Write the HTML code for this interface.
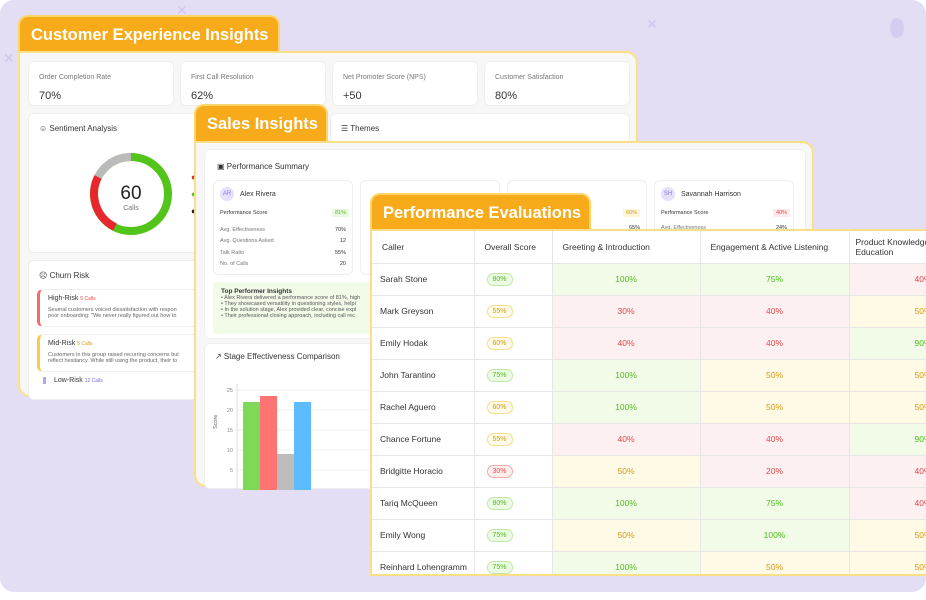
<!DOCTYPE html>
<html><head><meta charset="utf-8"><style>
*{box-sizing:border-box;margin:0;padding:0}
body{width:926px;height:600px;background:#fff;font-family:"Liberation Sans",sans-serif;position:relative;overflow:hidden;color:#333}
.abs{position:absolute}
.bg{left:0;top:0;width:926px;height:592px;background:#e4def4;border-radius:14px}
.tab{background:#f7ab1a;color:#fff;font-weight:bold;border:2px solid #fbd46a;border-bottom:none;border-radius:10px 10px 0 0;padding-left:11px;display:flex;align-items:center;white-space:nowrap}
.card{background:#f7f7f8;border:2px solid #fbdf86;border-radius:0 12px 12px 12px}
.box{background:#fff;border-radius:6px;border:1px solid #eee}
.sm{font-size:7px;color:#777}
.t{font-size:8px;color:#333}
table{border-collapse:collapse;font-size:8.5px}
td,th{border-right:1px solid #e6e6e6;border-bottom:1px solid #e6e6e6;height:32px}
th{font-weight:normal;text-align:left;padding-left:10px;color:#333;background:#fff}
.g{background:#f2fbe8;color:#4cbf1b;text-align:center}
.r{background:#fdf0f0;color:#e2474b;text-align:center}
.y{background:#fefae6;color:#d89a14;text-align:center}
.pill{display:inline-block;font-size:7px;padding:2px 5px;border-radius:8px;border:1px solid}
</style></head><body>
<div class="abs bg"></div>
<div class="abs" style="left:176px;top:2px;color:#cfc6ea;font-size:14px">✕</div>
<div class="abs" style="left:646px;top:16px;color:#cfc6ea;font-size:14px">✕</div>
<div class="abs" style="left:3px;top:50px;color:#cfc6ea;font-size:14px">✕</div>

<!-- Card 1 -->
<div class="abs tab" style="left:18px;top:15px;width:262px;height:38px;font-size:16.5px">Customer Experience Insights</div>
<div class="abs card" style="left:18px;top:51px;width:620px;height:346px">
 <div class="abs box" style="left:8px;top:8px;width:146px;height:45px"><div class="sm abs" style="left:10px;top:12px">Order Completion Rate</div><div class="abs" style="left:10px;top:28px;font-size:11px">70%</div></div>
 <div class="abs box" style="left:160px;top:8px;width:146px;height:45px"><div class="sm abs" style="left:10px;top:12px">First Call Resolution</div><div class="abs" style="left:10px;top:28px;font-size:11px">62%</div></div>
 <div class="abs box" style="left:312px;top:8px;width:146px;height:45px"><div class="sm abs" style="left:10px;top:12px">Net Promoter Score (NPS)</div><div class="abs" style="left:10px;top:28px;font-size:11px">+50</div></div>
 <div class="abs box" style="left:464px;top:8px;width:146px;height:45px"><div class="sm abs" style="left:10px;top:12px">Customer Satisfaction</div><div class="abs" style="left:10px;top:28px;font-size:11px">80%</div></div>
 <div class="abs box" style="left:8px;top:60px;width:180px;height:140px">
  <div class="abs t" style="left:10px;top:10px">☺ Sentiment Analysis</div>
  <svg class="abs" style="left:60px;top:38px" width="84" height="84" viewBox="0 0 84 84">
   <circle cx="42" cy="42" r="37" fill="none" stroke="#52c41a" stroke-width="8"/>
   <path d="M42 5 A37 37 0 0 0 9 25" fill="none" stroke="#bbb" stroke-width="8"/>
   <path d="M9 25 A37 37 0 0 0 26 75" fill="none" stroke="#e8262e" stroke-width="8"/>
   <text x="42" y="47" text-anchor="middle" font-size="19" fill="#222" font-family="Liberation Sans">60</text>
   <text x="42" y="58" text-anchor="middle" font-size="7" fill="#777" font-family="Liberation Sans">Calls</text>
  </svg>
  <div class="abs" style="left:162px;top:58px;color:#e8262e;font-size:9px">●</div>
  <div class="abs" style="left:162px;top:75px;color:#52c41a;font-size:9px">●</div>
  <div class="abs" style="left:162px;top:92px;color:#222;font-size:9px">●</div>
 </div>
 <div class="abs box" style="left:8px;top:207px;width:180px;height:140px">
  <div class="abs t" style="left:10px;top:10px">☹ Churn Risk</div>
  <div class="abs box" style="left:8px;top:28px;width:172px;height:38px;border-left:3px solid #f06b6b"><div class="abs" style="left:8px;top:5px;font-size:7px">High-Risk <span style="color:#e2474b;font-size:5px">5 Calls</span></div><div class="abs" style="left:8px;top:17px;font-size:5.5px;color:#666;white-space:nowrap">Several customers voiced dissatisfaction with respon<br>poor onboarding: "We never really figured out how to</div></div>
  <div class="abs box" style="left:8px;top:73px;width:172px;height:38px;border-left:3px solid #f8cc4c"><div class="abs" style="left:8px;top:5px;font-size:7px">Mid-Risk <span style="color:#d89a14;font-size:5px">5 Calls</span></div><div class="abs" style="left:8px;top:17px;font-size:5.5px;color:#666;white-space:nowrap">Customers in this group raised recurring concerns but<br>reflect hesitancy. While still using the product, their to</div></div>
  <div class="abs" style="left:14px;top:116px;font-size:7px;border-left:3px solid #b6a7ea;padding-left:8px">Low-Risk <span style="color:#7a6ad6;font-size:5px">12 Calls</span></div>
 </div>
 <div class="abs box" style="left:310px;top:60px;width:300px;height:30px"><div class="abs t" style="left:10px;top:10px">☰ Themes</div></div>
</div>

<!-- Card 2 -->
<div class="abs tab" style="left:194px;top:104px;width:134px;height:39px;font-size:16.5px">Sales Insights</div>
<div class="abs card" style="left:194px;top:141px;width:620px;height:346px">
 <div class="abs box" style="left:8px;top:6px;width:602px;height:190px">
  <div class="abs t" style="left:12px;top:12px">▣ Performance Summary</div>
  <div class="abs box" style="left:8px;top:30px;width:140px;height:95px">
   <div class="abs" style="left:6px;top:6px;width:14px;height:14px;border-radius:50%;background:#e6e0fa;color:#8b7ae0;font-size:6px;text-align:center;line-height:14px">AR</div>
   <div class="abs t" style="left:26px;top:10px;font-size:7px">Alex Rivera</div>
   <div class="abs" style="left:6px;top:29px;font-size:5.5px">Performance Score</div><div class="abs" style="left:118px;top:28px;font-size:5.5px;color:#4cbf1b;background:#eaf9df;padding:1px 3px">81%</div>
   <div class="abs sm" style="left:6px;top:44px;font-size:5.5px;line-height:11.3px">Avg. Effectiveness<br>Avg. Questions Asked<br>Talk Ratio<br>No. of Calls</div>
   <div class="abs" style="right:6px;top:44px;font-size:5.5px;line-height:11.3px;text-align:right">70%<br>12<br>55%<br>20</div>
  </div>
  <div class="abs box" style="left:155px;top:30px;width:140px;height:95px"></div>
  <div class="abs box" style="left:302px;top:30px;width:140px;height:95px"><div class="abs" style="right:6px;top:28px;font-size:5.5px;color:#d89a14;background:#fdf5d8;padding:1px 3px">60%</div><div class="abs" style="right:6px;top:44px;font-size:5.5px">65%</div></div>
  <div class="abs box" style="left:449px;top:30px;width:140px;height:95px">
   <div class="abs" style="left:6px;top:6px;width:14px;height:14px;border-radius:50%;background:#e6e0fa;color:#8b7ae0;font-size:6px;text-align:center;line-height:14px">SH</div>
   <div class="abs t" style="left:26px;top:10px;font-size:7px">Savannah Harrison</div>
   <div class="abs" style="left:6px;top:29px;font-size:5.5px">Performance Score</div><div class="abs" style="left:118px;top:28px;font-size:5.5px;color:#e2474b;background:#fdeaea;padding:1px 3px">40%</div>
   <div class="abs sm" style="left:6px;top:44px;font-size:5.5px">Avg. Effectiveness</div><div class="abs" style="right:6px;top:44px;font-size:5.5px">24%</div>
  </div>
  <div class="abs" style="left:8px;top:132px;width:200px;height:52px;background:#f2fbe8;border-radius:4px;font-size:5.5px;color:#555;padding:6px 8px;white-space:nowrap;overflow:hidden">
   <b style="font-size:6.5px;color:#333">Top Performer Insights</b><br>• Alex Rivera delivered a performance score of 81%, high<br>• They showcased versatility in questioning styles, helpi<br>• In the solution stage, Alex provided clear, concise expl<br>• Their professional closing approach, including call rec
  </div>
 </div>
 <div class="abs box" style="left:8px;top:200px;width:200px;height:146px">
  <div class="abs t" style="left:10px;top:8px">↗ Stage Effectiveness Comparison</div>
  <svg id="chart" class="abs" style="left:0;top:0" width="200" height="146"></svg>
 </div>
</div>

<!-- Card 3 -->
<div class="abs tab" style="left:370px;top:193px;width:221px;height:38px;font-size:16.5px">Performance Evaluations</div>
<div class="abs" style="left:370px;top:229px;width:560px;height:347px;background:#fff;border:2px solid #fbdf86;border-right:none;overflow:hidden">
<table id="tbl" style="width:560px;table-layout:fixed">
<colgroup><col style="width:102px"><col style="width:78px"><col style="width:148px"><col style="width:149px"><col style="width:83px"></colgroup>
<tr><th>Caller</th><th>Overall Score</th><th>Greeting &amp; Introduction</th><th>Engagement &amp; Active Listening</th><th style="line-height:10px;padding-left:6px;white-space:nowrap;overflow:hidden">Product Knowledge &amp;<br>Education</th></tr>
</table></div>
<div class="abs" style="left:890px;top:18px;width:14px;height:20px;border-radius:50%;background:#d6ccef"></div>

<script>
const barLabels=["Greeting","Engagement","Product","Closing"];
const barValues=[22,23.5,9,22];
const barColors=["#7ed957","#ff7373","#bdbdbd","#5cbcff"];
const yTicks=[5,10,15,20,25];
const NS="http://www.w3.org/2000/svg";
const svg=document.getElementById('chart');
const y0=146,ppu=4,x0=38,bw=17;
const ys=v=>y0-v*ppu;
yTicks.forEach(t=>{
 const l=document.createElementNS(NS,'line');
 l.setAttribute('x1',x0-6);l.setAttribute('x2',200);l.setAttribute('y1',ys(t));l.setAttribute('y2',ys(t));l.setAttribute('stroke','#f0f0f0');
 
 
 svg.appendChild(l);
 const tx=document.createElementNS(NS,'text');
 tx.setAttribute('x',x0-10);tx.setAttribute('y',ys(t)+2);tx.setAttribute('font-size','5.5');tx.setAttribute('fill','#888');tx.setAttribute('text-anchor','end');tx.textContent=t;
 
 
 svg.appendChild(tx);
});
const ax=document.createElementNS(NS,'line');
ax.setAttribute('x1',x0-6);ax.setAttribute('x2',x0-6);ax.setAttribute('y1',40);ax.setAttribute('y2',146);ax.setAttribute('stroke','#ddd');


svg.appendChild(ax);
const yt=document.createElementNS(NS,'text');
yt.setAttribute('x',0);yt.setAttribute('y',0);yt.setAttribute('font-size','5.5');yt.setAttribute('fill','#666');yt.setAttribute('transform','translate(12,85) rotate(-90)');yt.textContent='Score';


svg.appendChild(yt);
barValues.forEach((v,i)=>{
 const r=document.createElementNS(NS,'rect');
 r.setAttribute('x',x0+i*bw);r.setAttribute('y',ys(v));r.setAttribute('width',bw);r.setAttribute('height',v*ppu);r.setAttribute('fill',barColors[i]);
 
 
 svg.appendChild(r);
});

const callers=["Sarah Stone","Mark Greyson","Emily Hodak","John Tarantino","Rachel Aguero","Chance Fortune","Bridgitte Horacio","Tariq McQueen","Emily Wong","Reinhard Lohengramm"];
const overall=[80,55,60,75,60,55,30,80,75,75];
const greeting=[100,30,40,100,100,40,50,100,50,100];
const engagement=[75,40,40,50,50,40,20,75,100,50];
const product=[40,50,90,50,50,90,40,40,50,50];
const cls=v=>v>=70?'g':(v>=50?'y':'r');
const pillStyle=v=>v>=70?'color:#4cbf1b;background:#eefbe4;border-color:#bfe8a6':(v>=50?'color:#d89a14;background:#fffbe8;border-color:#f5dc90':'color:#e2474b;background:#fdeeee;border-color:#f3a9ab');
const tbl=document.getElementById('tbl');
callers.forEach((c,i)=>{
 const tr=document.createElement('tr');
 
 
 tr.innerHTML=`<td style="padding-left:8px;white-space:nowrap">${c}</td><td style="padding-left:12px"><span class="pill" style="${pillStyle(overall[i])}">${overall[i]}%</span></td><td class="${cls(greeting[i])}">${greeting[i]}%</td><td class="${cls(engagement[i])}">${engagement[i]}%</td><td class="${cls(product[i])}" style="text-align:right;padding-right:0">${product[i]}%</td>`;
 tbl.appendChild(tr);
});
</script>
</body></html>
